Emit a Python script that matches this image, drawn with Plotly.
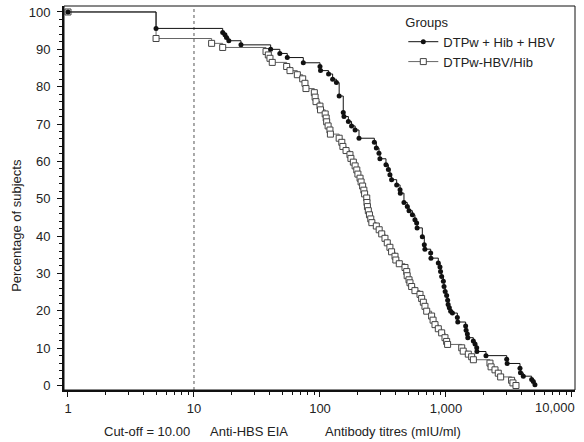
import plotly.graph_objects as go

# ---- data ----
group1_name = "DTPw + Hib + HBV"
group1_titre = [1, 5, 16.9, 17.6, 18.1, 18.9, 23.6, 40.6, 48, 55, 73.7, 100, 101, 117, 126, 135,
                142, 153, 155, 168, 178, 190, 204, 270, 280, 294, 299, 334, 349, 359, 370, 406,
                432, 434, 464, 493, 509, 541, 567, 585, 590, 649, 673, 680, 756, 760, 869, 896,
                905, 924, 953, 965, 985, 1012, 1031, 1040, 1063, 1089, 1125, 1231, 1240, 1432,
                1445, 1478, 1490, 1648, 1700, 1753, 1760, 2077, 3034, 3060, 3867, 3900, 4110,
                4786, 4932, 5082]
group1_pct = [100, 95.6, 94.5, 93.9, 93.2, 92.3, 91.2, 90.0, 88.9, 87.8, 86.4, 85.4, 84.3, 83.4,
              82.0, 81.1, 77.5, 73.1, 72.0, 70.7, 69.5, 68.4, 66.2, 65.1, 63.6, 62.2, 60.7, 59.1,
              57.8, 56.4, 55.1, 53.7, 52.4, 51.5, 49.0, 47.9, 46.8, 45.7, 44.4, 43.5, 42.2, 39.8,
              37.7, 36.5, 35.5, 34.1, 32.8, 31.7, 30.5, 29.2, 27.9, 26.5, 25.2, 24.1, 22.8, 21.7,
              20.8, 19.9, 19.4, 18.2, 17.0, 15.9, 14.8, 13.8, 12.8, 11.9, 11.1, 10.1, 9.1, 8.0,
              7.0, 5.9, 4.6, 3.4, 2.5, 1.6, 1.1, 0.2]

group2_name = "DTPw-HBV/Hib"
group2_titre = [1, 5, 13.8, 16.9, 37.3, 38.9, 40.1, 41.8, 54.4, 57.8, 66.1, 72.9, 76, 77.4, 90.2,
                91.5, 93, 100, 101, 110, 112, 113, 116, 120, 121, 142, 149, 152, 161, 173, 176,
                184, 190, 196, 200, 208, 212, 218, 223, 226, 235, 236, 238, 242, 247, 253, 258,
                280, 295, 309, 328, 342, 359, 370, 394, 400, 426, 473, 488, 492, 509, 518, 534,
                567, 622, 641, 661, 681, 703, 769, 790, 818, 869, 924, 982, 1012, 1030, 1333,
                1370, 1504, 1599, 1650, 2234, 2280, 2449, 2600, 2716, 3316, 3400, 3593]
group2_pct = [100, 92.9, 91.6, 90.5, 89.4, 88.5, 87.6, 86.5, 85.4, 84.3, 83.2, 82.1, 80.9, 79.5,
              78.4, 77.2, 76.0, 74.8, 73.8, 72.7, 71.6, 70.6, 69.5, 68.4, 67.3, 66.2, 65.1, 64.0,
              62.9, 61.8, 60.8, 59.8, 58.8, 57.7, 56.6, 55.5, 54.5, 53.4, 52.3, 51.3, 50.2, 49.0,
              47.9, 46.8, 45.7, 44.6, 43.6, 42.7, 41.7, 40.6, 39.4, 38.2, 37.0, 35.8, 34.6, 33.6,
              32.6, 31.6, 30.5, 29.4, 28.3, 27.5, 26.5, 25.4, 24.4, 23.3, 22.3, 21.2, 19.9, 18.6,
              17.5, 16.3, 15.2, 14.1, 12.8, 11.8, 11.0, 10.1, 9.2, 8.4, 7.7, 6.9, 6.0, 5.0, 4.2,
              3.3, 2.3, 1.4, 0.7, 0.0]

cutoff = 10
x_tick_vals = [1, 10, 100, 1000, 10000]
x_tick_text = ["1", "10", "100", "1,000", ""]
last_tick_label = "10,000"          # drawn separately so it stays inside the picture
y_tick_vals = [0, 10, 20, 30, 40, 50, 60, 70, 80, 90, 100]
bottom_labels = ["Cut-off = 10.00", "Anti-HBS EIA", "Antibody titres (mIU/ml)"]
y_title = "Percentage of subjects"
legend_title = "Groups"

FONT = "Liberation Sans, Arial, sans-serif"
TXT = "#222222"

fig = go.Figure()

fig.add_trace(go.Scatter(
    x=group2_titre, y=group2_pct, name=group2_name, mode="lines+markers",
    line=dict(shape="hv", color="#666666", width=1),
    marker=dict(symbol="square", size=6, color="white", line=dict(color="#444444", width=1)),
))
fig.add_trace(go.Scatter(
    x=group1_titre, y=group1_pct, name=group1_name, mode="lines+markers",
    line=dict(shape="hv", color="#111111", width=1),
    marker=dict(symbol="circle", size=5, color="#111111"),
))

# cut-off reference line
fig.add_shape(type="line", xref="x", yref="paper", x0=cutoff, x1=cutoff, y0=0, y1=1,
              line=dict(color="#555555", width=1, dash="dot"), layer="below")
# thin frame
fig.add_shape(type="rect", xref="paper", yref="paper", x0=0, x1=1, y0=0, y1=1,
              line=dict(color="#111111", width=1))

minor_x = [m * 10 ** k for k in range(4) for m in range(2, 10)]

fig.update_layout(
    width=584, height=442, autosize=False,
    margin=dict(l=64, r=9, t=6, b=52),
    paper_bgcolor="white", plot_bgcolor="white",
    font=dict(family=FONT, size=13, color=TXT),
    showlegend=True,
    legend=dict(
        title=dict(text=legend_title, font=dict(size=13)),
        x=0.664, y=0.99, xanchor="left", yanchor="top",
        bgcolor="rgba(0,0,0,0)", font=dict(size=13), traceorder="reversed",
        itemwidth=30,
    ),
    xaxis=dict(
        type="log", range=[-0.0317, 4.024], automargin=False,
        tickmode="array", tickvals=x_tick_vals, ticktext=x_tick_text,
        ticks="outside", ticklen=5, tickwidth=1, tickcolor="#111111",
        ticklabelstandoff=0,
        showline=True, linewidth=2, linecolor="#111111",
        showgrid=False, zeroline=False,
        minor=dict(tickvals=minor_x, ticks="outside", ticklen=3, tickcolor="#111111", showgrid=False),
    ),
    yaxis=dict(
        range=[-1.2, 101.6], automargin=False,
        tickmode="array", tickvals=y_tick_vals,
        ticks="outside", ticklen=5, tickwidth=1, tickcolor="#111111",
        ticklabelstandoff=4,
        showline=True, linewidth=2, linecolor="#111111",
        showgrid=False, zeroline=False,
        minor=dict(dtick=2, ticks="outside", ticklen=3, tickcolor="#111111", showgrid=False),
    ),
)

fig.add_annotation(text=last_tick_label, xref="paper", yref="paper", x=0.961, y=0,
                   xanchor="center", yanchor="top", yshift=-8,
                   showarrow=False, font=dict(size=13, color=TXT))
fig.add_annotation(text=y_title, xref="paper", yref="paper", x=-0.092, y=0.43,
                   xanchor="center", yanchor="middle",
                   textangle=-90, showarrow=False, font=dict(size=13, color=TXT))
for lab, xp in zip(bottom_labels, [0.162, 0.363, 0.644]):
    fig.add_annotation(text=lab, xref="paper", yref="paper", x=xp, y=-0.109,
                       xanchor="center", yanchor="middle",
                       showarrow=False, font=dict(size=13, color=TXT))

fig.write_html(
    "out.html",
    config={"responsive": False, "displayModeBar": False},
    post_script="document.body.style.margin='0';document.body.style.overflow='hidden';",
)
